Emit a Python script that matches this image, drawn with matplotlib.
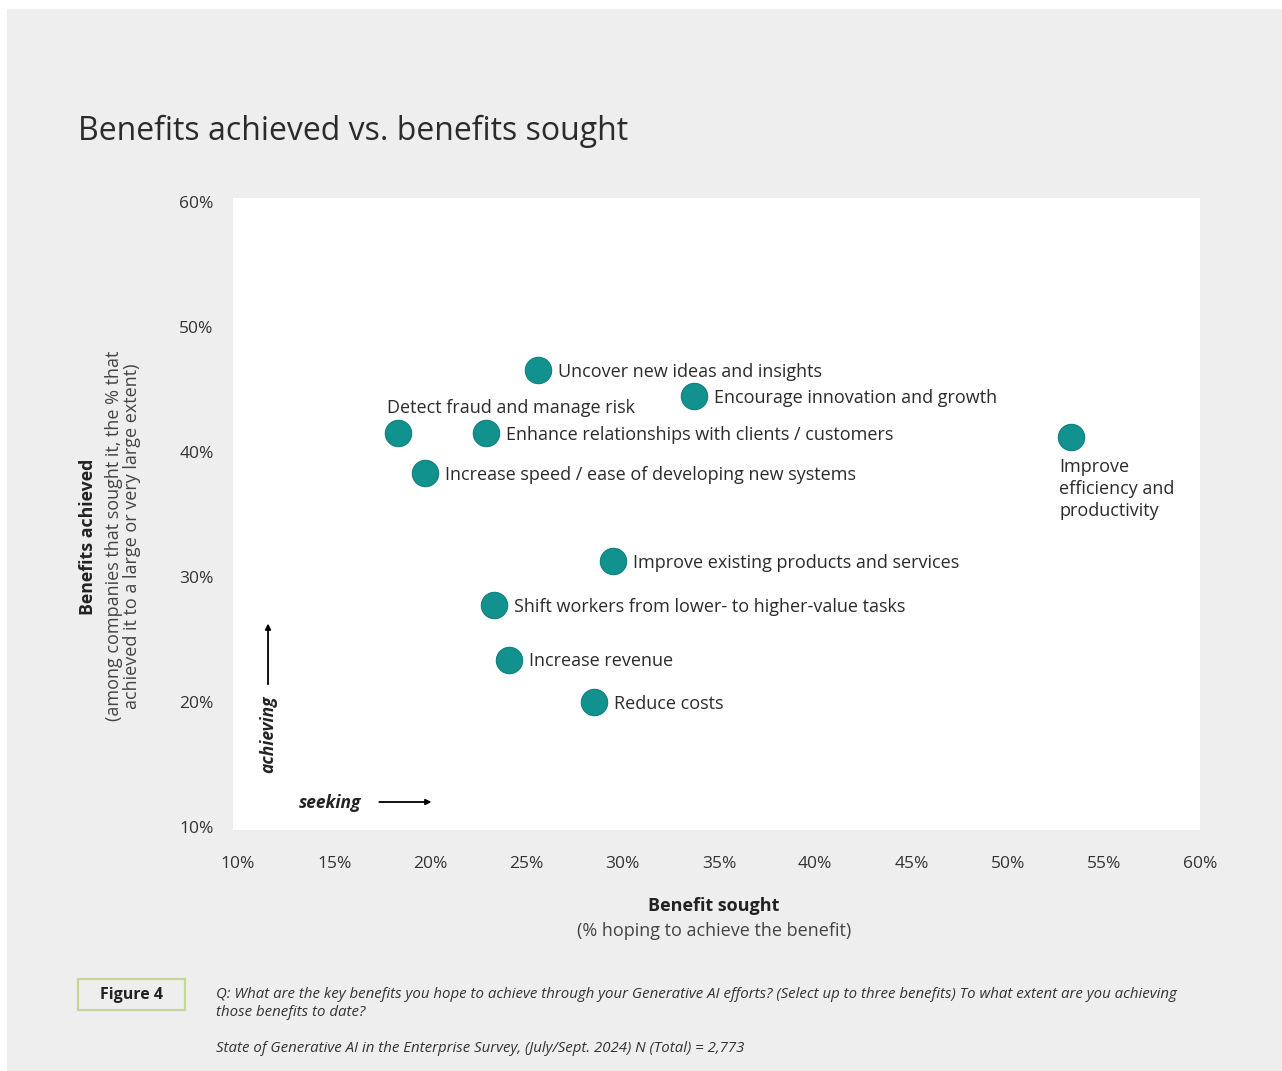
import matplotlib
matplotlib.use("Agg")
import matplotlib.pyplot as plt
from matplotlib.patches import Rectangle

plt.rcParams['font.family'] = ['Open Sans', 'DejaVu Sans']

# ---- data ----
labels = [
    "Uncover new ideas and insights",
    "Encourage innovation and growth",
    "Detect fraud and manage risk",
    "Enhance relationships with clients / customers",
    "Increase speed / ease of developing new systems",
    "Improve\nefficiency and\nproductivity",
    "Improve existing products and services",
    "Shift workers from lower- to higher-value tasks",
    "Increase revenue",
    "Reduce costs",
]
sought = [25.6, 33.7, 18.3, 22.9, 19.7, 53.3, 29.5, 23.3, 24.1, 28.5]
achieved = [46.6, 44.5, 41.5, 41.5, 38.3, 41.2, 31.3, 27.8, 23.4, 20.0]
label_pos = ["right", "right", "above", "right", "right", "below",
             "right", "right", "right", "right"]
x_ticks = [10, 15, 20, 25, 30, 35, 40, 45, 50, 55, 60]
y_ticks = [10, 20, 30, 40, 50, 60]

W, H = 1282, 1071
fig = plt.figure(figsize=(W / 100, H / 100), dpi=100)
fig.patch.set_facecolor("white")

def fx(px):
    return px / W

def fy(py):
    return 1 - py / H

# gray background panel
fig.patches.append(Rectangle((fx(7), 0), 1 - fx(7), fy(9), transform=fig.transFigure,
                             facecolor="#eeeeee", edgecolor="none", zorder=-10))

ax = fig.add_axes([fx(233), fy(830), fx(1200) - fx(233), fy(198) - fy(830)])
ax.set_facecolor("white")
for s in ax.spines.values():
    s.set_visible(False)

ax.set_xlim(9.74, 59.95)
ax.set_ylim(9.76, 60.32)
ax.set_xticks(x_ticks)
ax.set_yticks(y_ticks)
ax.set_xticklabels([f"{v}%" for v in x_ticks])
ax.set_yticklabels([f"{v}%" for v in y_ticks])
ax.tick_params(axis="x", length=0, pad=19, labelsize=12.5, labelcolor="#333333")
ax.tick_params(axis="y", length=0, pad=14, labelsize=12.5, labelcolor="#333333")

ax.scatter(sought, achieved, s=360, color="#12928e", edgecolors="#0e7f7c",
           linewidths=0.8, zorder=3)

for lab, x, y, pos in zip(labels, sought, achieved, label_pos):
    if pos == "right":
        ax.annotate(lab, (x, y), xytext=(20, -2), textcoords="offset pixels",
                    ha="left", va="center", fontsize=13, color="#2b2b2b")
    elif pos == "above":
        ax.annotate(lab, (x, y), xytext=(-11, 25), textcoords="offset pixels",
                    ha="left", va="center", fontsize=13, color="#2b2b2b")
    else:
        ax.annotate(lab, (x, y), xytext=(-12, -21), textcoords="offset pixels",
                    ha="left", va="top", fontsize=13, color="#2b2b2b",
                    linespacing=1.3)

# direction arrows
ax.annotate("", xy=(11.56, 26.5), xytext=(11.56, 21.2),
            arrowprops=dict(arrowstyle="-|>", color="black", lw=1.3,
                            mutation_scale=8))
ax.text(11.56, 17.4, "achieving", rotation=90, ha="center", va="center",
        fontsize=12.5, fontstyle="italic", fontweight="bold", color="#222222")
ax.text(14.8, 11.9, "seeking", ha="center", va="center",
        fontsize=12.5, fontstyle="italic", fontweight="bold", color="#222222")
ax.annotate("", xy=(20.2, 12.0), xytext=(17.2, 12.0),
            arrowprops=dict(arrowstyle="-|>", color="black", lw=1.3,
                            mutation_scale=8))

# axis titles
fig.text(fx(714), fy(906), "Benefit sought", ha="center", va="center",
         fontsize=13, fontweight="bold", color="#222222")
fig.text(fx(714), fy(931), "(% hoping to achieve the benefit)", ha="center",
         va="center", fontsize=13, color="#444444")
fig.text(fx(88), fy(537), "Benefits achieved", ha="center", va="center",
         rotation=90, fontsize=12.8, fontweight="bold", color="#222222")
fig.text(fx(123), fy(536),
         "(among companies that sought it, the % that\nachieved it to a large or very large extent)",
         ha="center", va="center", rotation=90, fontsize=13, color="#444444",
         linespacing=1.0)

# title
fig.text(fx(78), fy(131), "Benefits achieved vs. benefits sought", ha="left",
         va="center", fontsize=23, color="#2b2b2b")

# footer
fig.patches.append(Rectangle((fx(78), fy(1010)), fx(185) - fx(78), fy(979) - fy(1010),
                             transform=fig.transFigure, facecolor="none",
                             edgecolor="#c3d896", lw=1.6))
fig.text(fx(131.5), fy(995), "Figure 4", ha="center", va="center", fontsize=11.5,
         fontweight="bold", color="#222222")
fig.text(fx(216), fy(994),
         "Q: What are the key benefits you hope to achieve through your Generative AI efforts? (Select up to three benefits) To what extent are you achieving",
         ha="left", va="center", fontsize=10.8, fontstyle="italic", color="#333333")
fig.text(fx(216), fy(1013), "those benefits to date?", ha="left", va="center",
         fontsize=10.8, fontstyle="italic", color="#333333")
fig.text(fx(216), fy(1048),
         "State of Generative AI in the Enterprise Survey, (July/Sept. 2024) N (Total) = 2,773",
         ha="left", va="center", fontsize=10.8, fontstyle="italic", color="#333333")

fig.savefig("out.png", dpi=100, facecolor=fig.get_facecolor())
